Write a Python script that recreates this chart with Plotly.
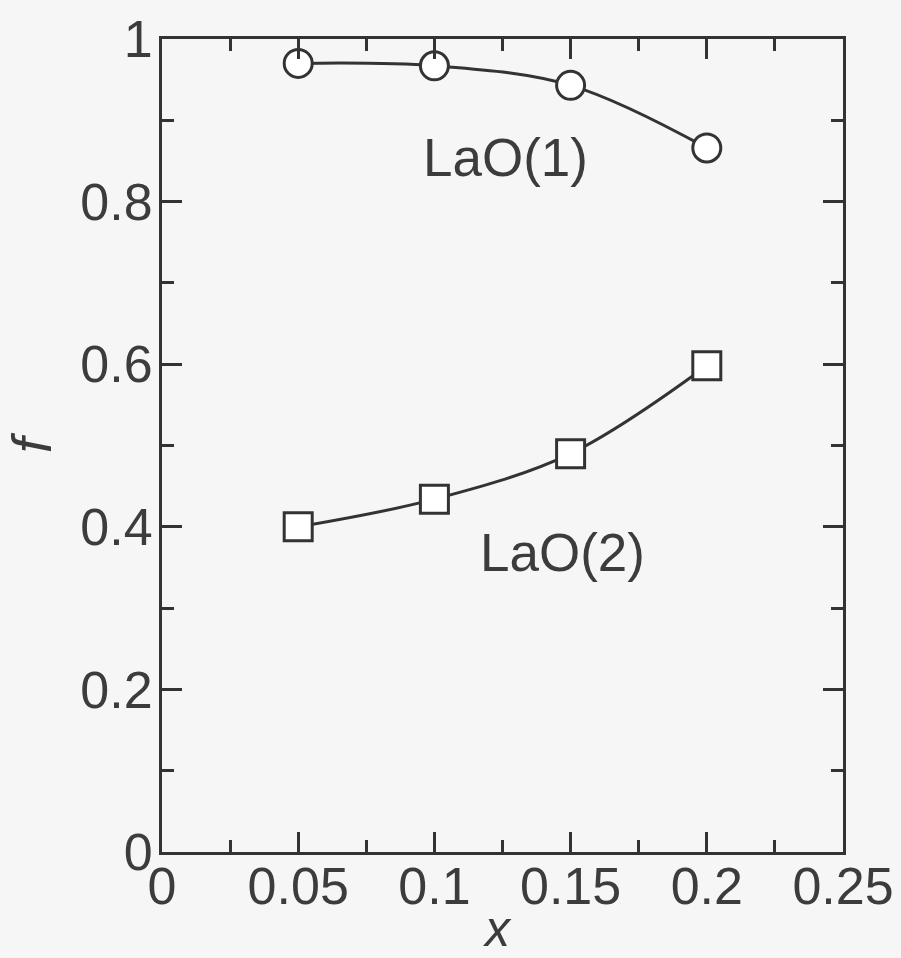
import plotly.graph_objects as go

x_vals = [0.05, 0.10, 0.15, 0.20]
f_lao1 = [0.970, 0.967, 0.943, 0.866]
f_lao2 = [0.400, 0.434, 0.490, 0.598]

x_ticks = [0, 0.05, 0.1, 0.15, 0.2, 0.25]
x_ticktext = ["0", "0.05", "0.1", "0.15", "0.2", "0.25"]
y_ticks = [0, 0.2, 0.4, 0.6, 0.8, 1.0]
y_ticktext = ["0", "0.2", "0.4", "0.6", "0.8", "1"]

ink = "#333333"
text_ink = "#3c3c3c"
bg = "#f6f6f6"
font_family = "Liberation Sans, Arial, sans-serif"

fig = go.Figure()
fig.add_trace(go.Scatter(
    x=x_vals, y=f_lao1, mode="lines+markers", name="LaO(1)",
    line=dict(color=ink, width=3, shape="spline"),
    marker=dict(symbol="circle", size=28, color="white", line=dict(color=ink, width=3)),
))
fig.add_trace(go.Scatter(
    x=x_vals, y=f_lao2, mode="lines+markers", name="LaO(2)",
    line=dict(color=ink, width=3, shape="spline"),
    marker=dict(symbol="square", size=28, color="white", line=dict(color=ink, width=3)),
))

fig.add_annotation(x=0.126, y=0.854, text="LaO(1)", showarrow=False,
                   font=dict(size=53, color=text_ink, family=font_family))
fig.add_annotation(x=0.147, y=0.368, text="LaO(2)", showarrow=False,
                   font=dict(size=53, color=text_ink, family=font_family))
# x-axis title near the bottom edge, as in the original
fig.add_annotation(x=0.1233, xref="x", y=0, yref="paper", yanchor="top",
                   yshift=-47, text="<i>x</i>", showarrow=False,
                   font=dict(size=50, color=text_ink, family=font_family))

axis_common = dict(
    showline=True, linecolor=ink, linewidth=3, mirror="ticks",
    ticks="inside", ticklen=20, tickwidth=3, tickcolor=ink,
    showgrid=False, zeroline=False, automargin=False,
    tickfont=dict(size=52, color=text_ink, family=font_family),
)

fig.update_xaxes(
    range=[0, 0.25], tickvals=x_ticks, ticktext=x_ticktext,
    minor=dict(dtick=0.025, ticks="inside", ticklen=12, tickwidth=3, tickcolor=ink, showgrid=False),
    ticklabelstandoff=-13,
    **axis_common,
)
fig.update_yaxes(
    range=[0, 1.0], tickvals=y_ticks, ticktext=y_ticktext,
    minor=dict(dtick=0.1, ticks="inside", ticklen=12, tickwidth=3, tickcolor=ink, showgrid=False),
    title=dict(text="<i>f</i>", font=dict(size=56, color=text_ink, family=font_family), standoff=16),
    ticklabelstandoff=-4,
    **axis_common,
)

fig.update_layout(
    width=901, height=958,
    margin=dict(l=162, r=58, t=39, b=106),
    paper_bgcolor=bg, plot_bgcolor=bg,
    showlegend=False,
)

fig.write_html(
    "out.html",
    config={"displayModeBar": False},
    post_script="document.body.style.margin='0';document.body.style.overflow='hidden';document.body.style.background='%s';" % bg,
)
